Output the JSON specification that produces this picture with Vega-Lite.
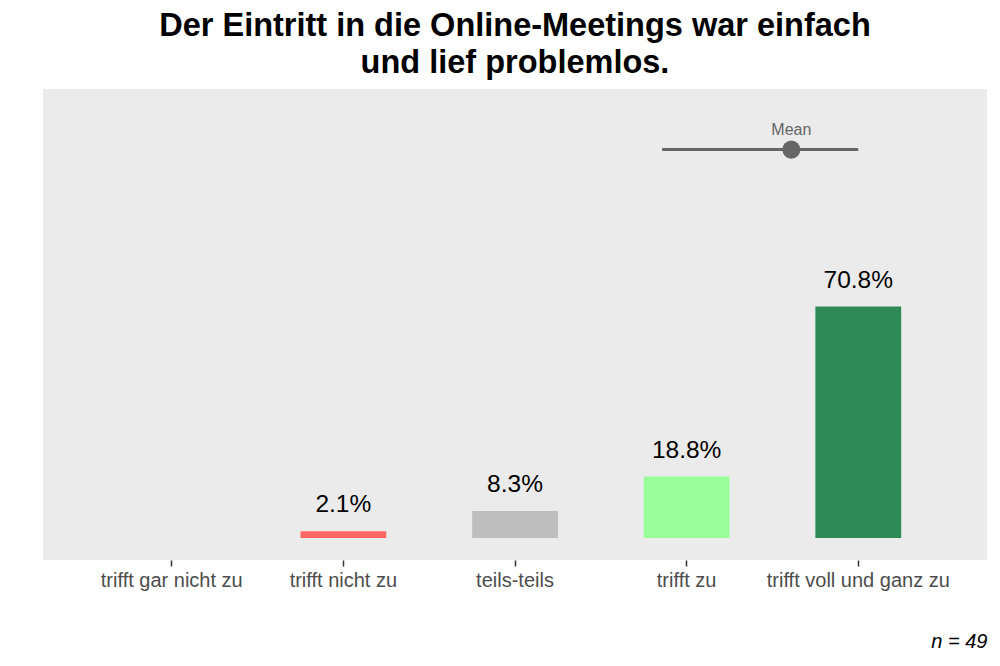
{
  "$schema": "https://vega.github.io/schema/vega-lite/v6.json",
  "width": 944,
  "height": 471,
  "autosize": {"type": "none"},
  "padding": {"left": 43, "top": 89, "right": 13, "bottom": 106},
  "background": "white",
  "config": {
    "font": "Liberation Sans",
    "view": {"fill": "#EBEBEB", "stroke": null}
  },
  "title": {
    "text": ["Der Eintritt in die Online-Meetings war einfach", "und lief problemlos."],
    "fontSize": 32.5,
    "fontWeight": "bold",
    "color": "black",
    "anchor": "middle",
    "lineHeight": 37,
    "offset": 10
  },
  "layer": [
    {
      "data": {
        "values": [
          {"Antwort": "trifft gar nicht zu", "Anteil": 0},
          {"Antwort": "trifft nicht zu", "Anteil": 0.021},
          {"Antwort": "teils-teils", "Anteil": 0.083},
          {"Antwort": "trifft zu", "Anteil": 0.188},
          {"Antwort": "trifft voll und ganz zu", "Anteil": 0.708}
        ]
      },
      "encoding": {
        "x": {
          "field": "Antwort",
          "type": "nominal",
          "sort": null,
          "scale": {"paddingInner": 0.5, "paddingOuter": 0.5}
        },
        "y": {
          "field": "Anteil",
          "type": "quantitative",
          "scale": {"domain": [-0.0671, 1.3732], "nice": false, "zero": false},
          "axis": null
        }
      },
      "layer": [
        {
          "mark": {"type": "bar"},
          "encoding": {
            "x": {
              "field": "Antwort",
              "type": "nominal",
              "sort": null,
              "axis": {
                "title": "n = 49",
                "titleFontStyle": "italic",
                "titleFontWeight": "normal",
                "titleFontSize": 20,
                "titleColor": "black",
                "titleAnchor": "end",
                "titlePadding": 41,
                "labelAngle": 0,
                "labelFontSize": 20,
                "labelColor": "#4D4D4D",
                "labelPadding": 4,
                "labelLimit": 0,
                "domain": false,
                "grid": false,
                "ticks": true,
                "tickColor": "#333333",
                "tickSize": 6,
                "tickWidth": 1.5
              }
            },
            "y2": {"datum": 0},
            "color": {
              "field": "Antwort",
              "type": "nominal",
              "scale": {
                "domain": ["trifft gar nicht zu", "trifft nicht zu", "teils-teils", "trifft zu", "trifft voll und ganz zu"],
                "range": ["#CC0000", "#FF6666", "#BEBEBE", "#9AFF9A", "#2E8B57"]
              },
              "legend": null
            }
          }
        },
        {
          "transform": [{"filter": "datum.Anteil > 0"}],
          "mark": {"type": "text", "fontSize": 24.5, "color": "black", "baseline": "middle", "dy": -26},
          "encoding": {
            "text": {"field": "Anteil", "type": "quantitative", "format": ".1%"}
          }
        }
      ]
    },
    {
      "data": {
        "values": [
          {"Bezeichnung": "Mean", "Mittelwert": 4.61, "Untergrenze": 3.857, "Obergrenze": 5, "Hoehe": 1.188}
        ]
      },
      "encoding": {
        "x": {
          "field": "Mittelwert",
          "type": "quantitative",
          "scale": {"domain": [0.25, 5.75], "nice": false, "zero": false},
          "axis": null
        },
        "y": {"field": "Hoehe", "type": "quantitative", "axis": null}
      },
      "layer": [
        {
          "mark": {"type": "rule", "color": "#666666", "strokeWidth": 3},
          "encoding": {
            "x": {"field": "Untergrenze", "type": "quantitative"},
            "x2": {"field": "Obergrenze"}
          }
        },
        {
          "mark": {"type": "point", "filled": true, "color": "#666666", "opacity": 1, "size": 330}
        },
        {
          "mark": {"type": "text", "fontSize": 16, "color": "#666666", "baseline": "middle", "dy": -20},
          "encoding": {"text": {"field": "Bezeichnung"}}
        }
      ]
    }
  ],
  "resolve": {"scale": {"x": "independent"}}
}
